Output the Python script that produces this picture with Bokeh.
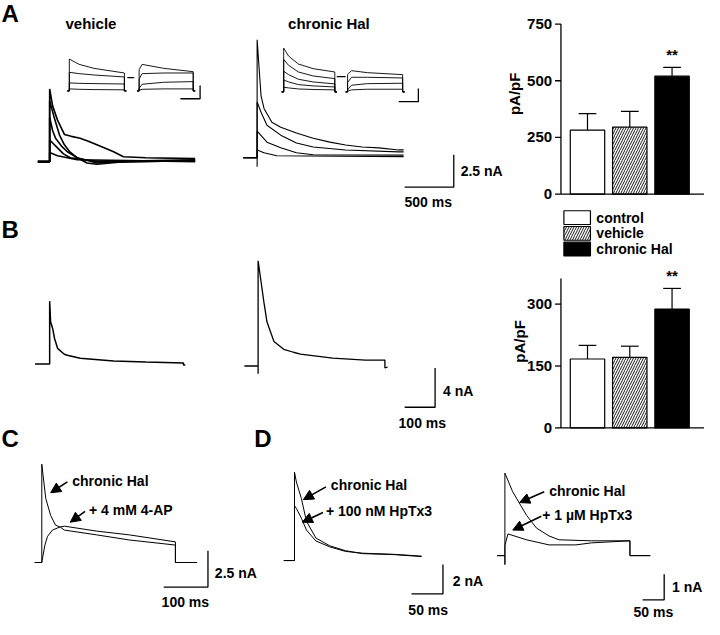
import math
from bokeh.plotting import figure
from bokeh.models import Range1d, Arrow, NormalHead
from bokeh.embed import file_html
from bokeh.resources import INLINE
from bokeh.core.properties import value

FONT = "Liberation Sans"

# ---------------- bar chart data (pA/pF) ----------------
groups = ["control", "vehicle", "chronic Hal"]
A_density = [282, 295, 520]
A_sem = [73, 70, 39]
A_ticks = [0, 250, 500, 750]
A_ymax = 750
B_density = [167, 171, 288]
B_sem = [33, 27, 50]
B_ticks = [0, 150, 300]
B_ymax = 362

# ---------------- traces (time in ms, current in nA) ----------------
# Panel A, vehicle, family of currents
veh_t1 = [-120, 0, 0, 30, 80, 150, 220, 310, 400, 480, 560, 650, 750, 980, 1480]
veh_i1 = [0, 0, 5.6, 4.3, 3.2, 2.1, 1.95, 1.8, 1.55, 1.3, 1.05, 0.76, 0.38, 0.3, 0.23]
veh_t2 = [-120, 0, 0, 50, 100, 150, 200, 280, 480, 800, 1480]
veh_i2 = [0, 0, 4.7, 3.3, 2.05, 1.3, 0.8, 0.3, -0.1, 0.05, 0.15]
veh_t3 = [-120, 0, 0, 30, 60, 120, 180, 280, 380, 480, 700, 1480]
veh_i3 = [0, 0, 3.4, 2.4, 1.8, 1.2, 0.76, 0.3, -0.1, -0.2, -0.05, 0.1]
veh_t4 = [-120, 0, 0, 80, 140, 210, 500, 1480]
veh_i4 = [0, 0, 1.67, 1.06, 0.6, 0.3, 0.0, 0.05]
veh_t5 = [-120, 0, 0, 80, 280, 1480]
veh_i5 = [0, 0, 0.7, 0.45, 0.15, 0.0]

# Panel A, chronic Hal
hal_t1 = [-140, 0, 0, 0, 40, 70, 150, 240, 400, 570, 740, 900, 1070, 1240, 1440, 1490]
hal_i1 = [0, 0, -0.7, 9.1, 4.77, 3.8, 2.73, 2.35, 1.9, 1.5, 1.2, 0.98, 0.83, 0.76, 0.6, 0.6]
hal_t2 = [-140, 0, 0, 40, 100, 240, 400, 570, 900, 1440, 1490]
hal_i2 = [0, 0, 4.3, 3.5, 2.5, 1.74, 1.14, 0.83, 0.6, 0.45, 0.45]
hal_t3 = [-140, 0, 0, 100, 240, 400, 570, 1490]
hal_i3 = [0, 0, 2.05, 1.2, 0.76, 0.38, 0.23, 0.2]
hal_t4 = [-140, 0, 0, 70, 200, 1490]
hal_i4 = [0, 0, 0.6, 0.38, 0.15, 0.08]

# Insets (steps), vehicle
vin_left_t = [-20, 0, 0, 100, 250, 560, 560, 580]
vin_left_i = [[0, 0, 2.4, 2.0, 1.7, 1.35, 0, 0],
              [0, 0, 1.4, 1.3, 1.2, 1.05, 0, 0],
              [0, 0, 0.6, 0.57, 0.55, 0.52, 0, 0],
              [0, 0, 0.15, 0.12, 0.1, 0.08, 0, 0]]
vin_right_t = [-20, 0, 0, 30, 250, 550, 550, 570]
vin_right_i = [[0, 0, 1.6, 2.0, 1.7, 1.45, 0, 0],
               [0, 0, 0.9, 1.3, 1.35, 1.35, 0, 0],
               [0, 0, 0.2, 0.5, 0.65, 0.7, 0, 0],
               [0, 0, 0.05, 0.12, 0.15, 0.15, 0, 0]]
vin_dash_t = [590, 660]
vin_dash_i = [1.0, 1.0]

# Insets, chronic Hal
hin_left_t = [-20, 0, 0, 50, 150, 300, 520, 520, 540]
hin_left_i = [[0, 0, 3.3, 2.7, 2.1, 1.75, 1.5, 0, 0],
              [0, 0, 2.45, 2.0, 1.5, 1.2, 1.0, 0, 0],
              [0, 0, 1.55, 1.3, 0.95, 0.75, 0.6, 0, 0],
              [0, 0, 0.9, 0.75, 0.55, 0.45, 0.37, 0, 0],
              [0, 0, 0.35, 0.3, 0.22, 0.18, 0.15, 0, 0]]
hin_right_t = [-20, 0, 0, 40, 200, 560, 560, 580]
hin_right_i = [[0, 0, 1.3, 1.6, 1.45, 1.3, 0, 0],
               [0, 0, 0.7, 1.1, 1.1, 1.05, 0, 0],
               [0, 0, 0.15, 0.5, 0.62, 0.65, 0, 0],
               [0, 0, 0.05, 0.15, 0.2, 0.2, 0, 0]]
hin_dash_t = [540, 630]
hin_dash_i = [1.15, 1.15]

# Panel B
B_veh_t = [-48, 0, 0, 3, 10, 16, 26, 48, 58, 100, 210, 316, 439, 439, 445]
B_veh_i = [0, 0, 6.4, 4.3, 3.6, 2.6, 1.6, 1.0, 0.9, 0.6, 0.3, 0.2, 0.1, -0.1, -0.1]
B_hal_t = [-45, 0, 0, 0, 10, 19, 29, 52, 84, 116, 139, 245, 352, 416, 416, 425]
B_hal_i = [0, 0, -0.8, 10.7, 8.5, 6.5, 4.5, 2.5, 1.7, 1.4, 1.2, 0.8, 0.6, 0.6, -0.2, -0.1]

# Panel C
C_hal_t = [-16, 0, 0, 9, 20, 31, 42, 51, 124, 198, 302, 302, 351]
C_hal_i = [0, 0, 6.76, 4.4, 3.24, 2.57, 2.43, 2.23, 1.9, 1.55, 1.2, 0, 0]
C_ap_t = [-16, 0, 7, 13, 24, 40, 51, 124, 198, 302, 302, 351]
C_ap_i = [0, 0, 1.2, 1.8, 2.23, 2.43, 2.5, 2.16, 1.9, 1.42, 0, 0]

# Panel D, 100 nM HpTx3
D1_hal_t = [-17, 0, 0, 3, 11, 19, 34, 56, 81, 108, 159, 202]
D1_hal_i = [0, 0, 6.0, 5.33, 4.2, 2.67, 1.53, 1.0, 0.67, 0.47, 0.4, 0.27]
D1_tx_t = [-17, 0, 0, 3, 11, 19, 34, 56, 81, 108, 159, 202]
D1_tx_i = [0, 0, 3.73, 3.53, 2.87, 2.07, 1.33, 0.93, 0.62, 0.5, 0.42, 0.3]

# Panel D, 1 uM HpTx3
D2_hal_t = [-18, 0, 0, 0, 18, 50, 73, 102, 125, 200, 289, 289, 336]
D2_hal_i = [0, 0, -0.35, 3.23, 2.5, 1.58, 1.08, 0.77, 0.62, 0.58, 0.58, 0, 0]
D2_tx_t = [-18, 0, 0, 7, 50, 102, 164, 200, 289, 289, 336]
D2_tx_i = [0, 0, 0.4, 0.85, 0.62, 0.42, 0.42, 0.5, 0.58, 0, 0]

# ---------------- layout ----------------
X0, X1, YT, YB = 2, 718, 3, 633
p = figure(width=704, height=619, x_range=Range1d(X0, X1), y_range=Range1d(YB, YT),
           output_backend="svg", toolbar_location=None, min_border=0,
           x_axis_location=None, y_axis_location=None, outline_line_color=None)
p.grid.visible = False

# panel origin (page px) and px per unit
PANELS = {
    "aveh": (52, 167, 0.1, 13.2),
    "ahal": (263, 163, 0.1, 13.2),
    "vinL": (72, 95, 0.1, 13.5),
    "vinR": (143, 95, 0.1, 13.5),
    "hinL": (290, 96, 0.1, 13.5),
    "hinR": (355, 96, 0.1, 13.5),
    "bveh": (52, 373, 0.31, 10.0),
    "bhal": (264, 375, 0.31, 10.0),
    "c": (44, 575, 0.45, 14.8),
    "d1": (301, 573, 0.64, 15.0),
    "d2": (515, 568, 0.44, 26.0),
    "barA": (599, 200, 43.0, 173.0 / 750),
    "barB": (599, 438, 43.0, 126.0 / 300),
}
exr, eyr = {}, {}
for name, (x0, y0, kx, ky) in PANELS.items():
    exr[name] = Range1d((X0 - x0) / kx, (X1 - x0) / kx)
    eyr[name] = Range1d((y0 - YB) / ky, (y0 - YT) / ky)
p.extra_x_ranges = exr
p.extra_y_ranges = eyr


def trace(name, t, i, w=1.0):
    p.line(t, i, x_range_name=name, y_range_name=name, line_color="black", line_width=w)


def txt(x, y, s, size=14, align="left", angle=0.0, baseline="middle"):
    p.text(x=[x], y=[y], text=[s], text_font=value(FONT), text_font_style="bold",
           text_font_size=f"{size}px", text_align=align, text_baseline=baseline,
           angle=angle, text_color="black")


def scalebar(cx, cy, name, t_len, i_len, w=1.3):
    _, _, kx, ky = PANELS[name]
    p.line([cx - t_len * kx, cx, cx], [cy, cy, cy - i_len * ky], line_color="black",
           line_width=w)


def arrow(xs, ys, xe, ye):
    p.add_layout(Arrow(end=NormalHead(size=10, fill_color="black", line_color="black"),
                       x_start=xs, y_start=ys, x_end=xe, y_end=ye,
                       line_color="black", line_width=1.6))


# ---- Panel A traces
for t, i in [(veh_t1, veh_i1), (veh_t2, veh_i2), (veh_t3, veh_i3), (veh_t4, veh_i4), (veh_t5, veh_i5)]:
    trace("aveh", t, i, 1.6)
for t, i in [(hal_t1, hal_i1), (hal_t2, hal_i2), (hal_t3, hal_i3), (hal_t4, hal_i4)]:
    trace("ahal", t, i, 1.1)
for i in vin_left_i:
    trace("vinL", vin_left_t, i, 0.9)
for i in vin_right_i:
    trace("vinR", vin_right_t, i, 0.9)
trace("vinL", vin_dash_t, vin_dash_i, 1.4)
for i in hin_left_i:
    trace("hinL", hin_left_t, i, 0.9)
for i in hin_right_i:
    trace("hinR", hin_right_t, i, 0.9)
trace("hinL", hin_dash_t, hin_dash_i, 1.4)

scalebar(205, 103, "vinL", 200, 1)
scalebar(427, 106, "hinL", 200, 1)
scalebar(463, 193, "aveh", 500, 2.5)
txt(470, 177, "2.5 nA", 14)
txt(437, 208, "500 ms", 14, "center")

# ---- Panel B traces
trace("bveh", B_veh_t, B_veh_i, 1.5)
trace("bhal", B_hal_t, B_hal_i, 1.3)
scalebar(444, 417, "bveh", 100, 4)
txt(452, 400, "4 nA", 14)
txt(431, 433, "100 ms", 14, "center")

# ---- Panel C
trace("c", C_hal_t, C_hal_i, 1.0)
trace("c", C_ap_t, C_ap_i, 1.0)
scalebar(213, 600, "c", 100, 2.5)
txt(220, 586, "2.5 nA", 14)
txt(190, 615, "100 ms", 14, "center")
txt(75, 492, "chronic Hal", 14)
txt(92, 522, "+ 4 mM 4-AP", 14)
arrow(70, 493, 53, 504)
arrow(88, 523, 73, 534)

# ---- Panel D
trace("d1", D1_hal_t, D1_hal_i, 1.0)
trace("d1", D1_tx_t, D1_tx_i, 1.0)
scalebar(452, 607, "d1", 50, 2)
txt(462, 594, "2 nA", 14)
txt(437, 623, "50 ms", 14, "center")
txt(338, 496, "chronic Hal", 14)
txt(333, 523, "+ 100 nM HpTx3", 14)
arrow(333, 498, 310, 511)
arrow(330, 524, 309, 534)

trace("d2", D2_hal_t, D2_hal_i, 1.0)
trace("d2", D2_tx_t, D2_tx_i, 1.0)
scalebar(677, 613, "d2", 50, 1)
txt(685, 600, "1 nA", 14)
txt(666, 625, "50 ms", 14, "center")
txt(560, 502, "chronic Hal", 14)
txt(553, 527, "+ 1 \u00b5M HpTx3", 14)
arrow(555, 503, 530, 514)
arrow(552, 528, 523, 542)

# ---- panel labels
txt(3, 16, "A", 24)
txt(94, 26, "vehicle", 15, "center")
txt(336, 26, "chronic Hal", 15, "center")
txt(3, 236, "B", 24)
txt(3, 449, "C", 24)
txt(260, 449, "D", 24)


# ---- bar charts
def barchart(name, dens, sem, ticks, ymax, label_x, label_y):
    x0, y0, kx, ky = PANELS[name]
    xs = list(range(len(dens)))
    bw = 35.0 / kx
    fills = ["white", "white", "black"]
    hatches = [" ", "/", " "]
    for k in xs:
        p.vbar(x=[k], top=[dens[k]], bottom=0, width=bw, fill_color=fills[k],
               line_color="black", line_width=1.2, hatch_pattern=hatches[k],
               hatch_color="black", hatch_scale=5, hatch_weight=0.9,
               x_range_name=name, y_range_name=name)
    # error bars
    tops = [d + s for d, s in zip(dens, sem)]
    p.segment(x0=xs, y0=dens, x1=xs, y1=tops,
              line_color="black", line_width=1.2, x_range_name=name, y_range_name=name)
    cap = 9.0 / kx
    p.segment(x0=[k - cap for k in xs], y0=tops, x1=[k + cap for k in xs], y1=tops,
              line_color="black", line_width=1.2, x_range_name=name, y_range_name=name)
    # axes
    ax = (572 - x0) / kx
    p.segment(x0=[ax], y0=[0], x1=[ax], y1=[ymax], line_color="black", line_width=1.3,
              x_range_name=name, y_range_name=name)
    p.segment(x0=[ax], y0=[0], x1=[(718 - x0) / kx], y1=[0], line_color="black",
              line_width=1.3, x_range_name=name, y_range_name=name)
    tl = 6.0 / kx
    p.segment(x0=[ax - tl] * len(ticks), y0=ticks, x1=[ax] * len(ticks), y1=ticks,
              line_color="black", line_width=1.3, x_range_name=name, y_range_name=name)
    p.text(x=[ax - 9.0 / kx] * len(ticks), y=ticks, text=[str(v) for v in ticks],
           text_font=value(FONT), text_font_style="bold", text_font_size="15px",
           text_align="right", text_baseline="middle",
           x_range_name=name, y_range_name=name)
    # significance
    p.text(x=[2], y=[tops[2] + 13.0 / ky], text=["**"], text_font=value(FONT),
           text_font_style="bold", text_font_size="15px", text_align="center",
           text_baseline="middle", x_range_name=name, y_range_name=name)
    txt(label_x, label_y, "pA/pF", 15, "center", math.pi / 2)


barchart("barA", A_density, A_sem, A_ticks, A_ymax, 525, 98)
barchart("barB", B_density, B_sem, B_ticks, B_ymax, 530, 350)

# legend
leg_y = [224, 240, 256]
leg_fill = ["white", "white", "black"]
leg_hatch = [" ", "/", " "]
for k, g in enumerate(groups):
    p.quad(left=[575], right=[602], top=[leg_y[k] - 7], bottom=[leg_y[k] + 7],
           fill_color=leg_fill[k], line_color="black", line_width=1.2,
           hatch_pattern=leg_hatch[k], hatch_color="black", hatch_scale=5, hatch_weight=0.9)
    txt(608, leg_y[k], g, 14)

open("out.html", "w").write(file_html(p, INLINE))
